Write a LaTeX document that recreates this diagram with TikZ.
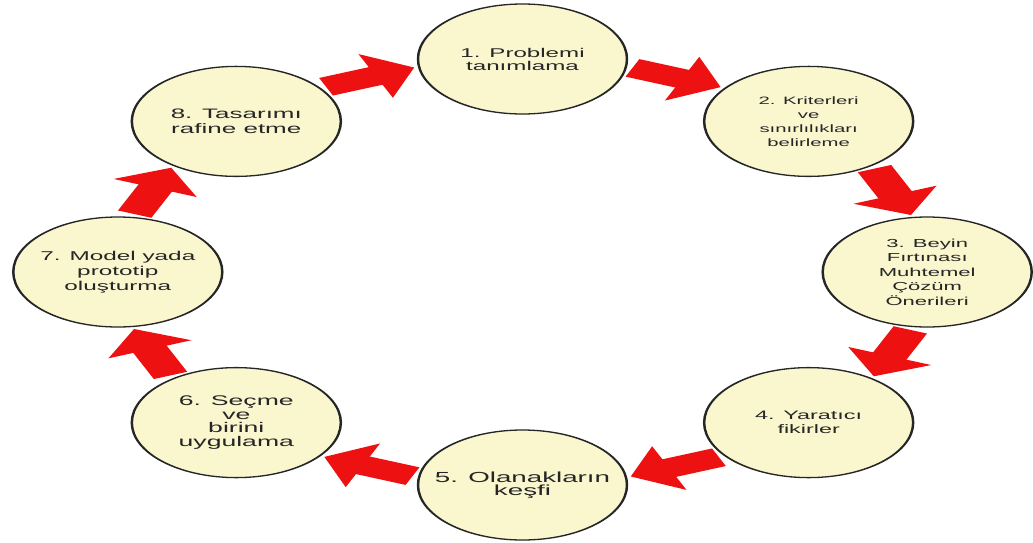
\documentclass[tikz,border=0pt]{standalone}
\usepackage{fontspec}
\setmainfont{Liberation Sans}
\usetikzlibrary{arrows.meta}
\definecolor{stagefill}{HTML}{FAF7CF}
\definecolor{arrowred}{HTML}{EE1111}
\begin{document}
\begin{tikzpicture}[x=1pt,y=1pt,
	stage/.style={circle,draw=black!85,line width=1.3pt,fill=stagefill,minimum size=110pt,inner sep=0pt,align=center,text=black!85},
	flow/.style={draw=arrowred,line width=19pt,-{Triangle[width=46pt,length=22pt]},shorten <=3pt,shorten >=2pt}]
	\path[fill=white,use as bounding box] (-522.5,-270) rectangle (510.5,272);
	\begin{scope}[transform canvas={xscale=1.9}]
		\node[stage,font=\fontsize{12.7}{13}\selectfont] (S1) at (90:213) {1. Problemi\\tanımlama};
		\node[stage,font=\fontsize{10.7}{14}\selectfont] (S2) at (45:213) {2. Kriterleri\\ve\\sınırlılıkları\\belirleme};
		\node[stage,font=\fontsize{11.6}{14.5}\selectfont] (S3) at (0:213) {3. Beyin\\Fırtınası\\Muhtemel\\Çözüm\\Önerileri};
		\node[stage,font=\fontsize{12.3}{14}\selectfont] (S4) at (-45:213) {4. Yaratıcı\\fikirler};
		\node[stage,font=\fontsize{14.6}{13.5}\selectfont] (S5) at (-90:213) {5. Olanakların\\keşfi};
		\node[stage,font=\fontsize{14}{13.5}\selectfont] (S6) at (-135:213) {6. Seçme\\ve\\birini\\uygulama};
		\node[stage,font=\fontsize{12.8}{15}\selectfont] (S7) at (180:213) {7. Model yada\\prototip\\oluşturma};
		\node[stage,font=\fontsize{13.7}{15}\selectfont] (S8) at (135:213) {8. Tasarımı\\rafine etme};
		
		\draw[flow] (S1.-8) -- (S2.143);
		\draw[flow] (S2.-53) -- (S3.98);
		\draw[flow] (S3.-98) -- (S4.53);
		\draw[flow] (S4.-143) -- (S5.8);
		\draw[flow] (S5.172) -- (S6.-37);
		\draw[flow] (S6.127) -- (S7.-82);
		\draw[flow] (S7.82) -- (S8.-127);
		\draw[flow] (S8.37) -- (S1.188);
	\end{scope}
\end{tikzpicture}
\end{document}
